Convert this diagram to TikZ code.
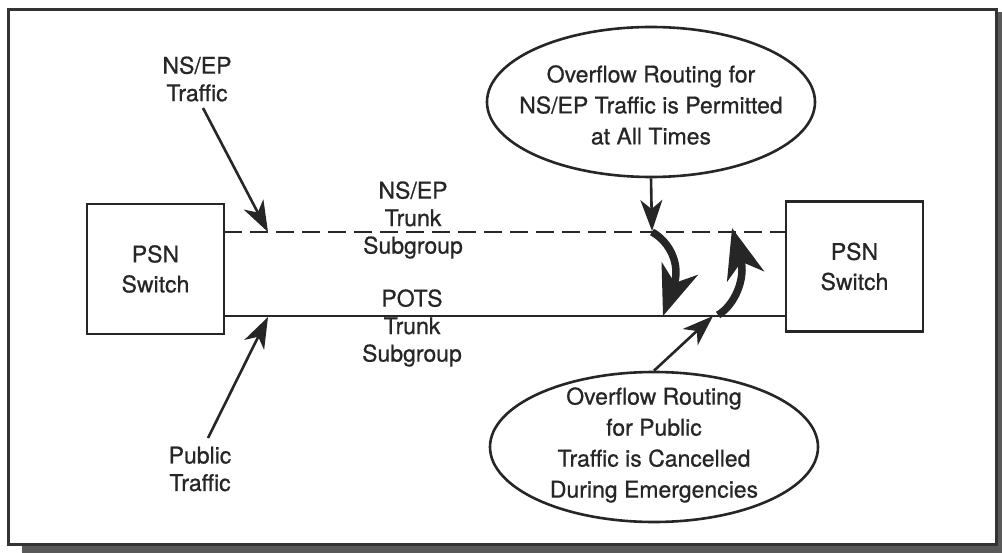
\documentclass[tikz,border=0pt]{standalone}
\usepackage{fontspec}
\setmainfont{TeX Gyre Heros}[FakeBold=0.7]
\usetikzlibrary{arrows.meta,shapes.geometric}
\begin{document}
\begin{tikzpicture}[x=1pt,y=-1pt,
  ink/.style={draw=black!85, line width=2.6pt},
  lbl/.style={text=black!85, align=center, font=\fontsize{23}{27.5}\selectfont, inner sep=0pt},
  ntext/.style={text=black!85, align=center, font=\fontsize{23}{31}\selectfont, inner sep=0pt},
  swbox/.style={ink, fill=white, minimum width=137pt, minimum height=130pt, inner sep=0pt, align=center, text=black!85, font=\fontsize{23}{30}\selectfont},
  note/.style={ink, ellipse, minimum width=328pt, minimum height=150pt, inner sep=0pt},
  thinarrow/.style={draw=black!85, line width=2.6pt, -{Stealth[length=31pt,width=22pt,inset=9pt]}},
  fatarrow/.style={draw=black!85, line width=7.5pt, -{Stealth[length=50pt,width=38pt,inset=15pt]}},
  trunk/.style={draw=black!85, line width=2.6pt},
]
\useasboundingbox (0,0) rectangle (1002,553);
% shadow and frame
\fill[black!65] (22,543) rectangle (1002,553);
\fill[black!65] (996,12) rectangle (1002,553);
\draw[draw=black!80, line width=3pt, fill=white] (8,10) rectangle (996,544);

% switches
\node[swbox] (L) at (155.5,269) {PSN\\Switch};
\node[swbox] (R) at (854.5,266.5) {PSN\\Switch};

% trunk lines
\coordinate (d1) at (224,232);
\coordinate (d2) at (786,232);
\coordinate (s1) at (224,316);
\coordinate (s2) at (786,316);
\draw[trunk, dash pattern=on 18pt off 8pt] (d1) -- (d2);
\draw[trunk] (s1) -- (s2);

% labels
\node[lbl] (nsep) at (197,79) {NS/EP\\Traffic};
\node[lbl] (nsept) at (413,220) {NS/EP\\Trunk\\Subgroup};
\node[lbl] (pots) at (412,328) {POTS\\Trunk\\Subgroup};
\node[lbl] (pub) at (200,469) {Public\\Traffic};

% ellipses
\node[note] (e1) at (651,102) {};
\node[ntext] (t1) at (651,105) {Overflow Routing for\\NS/EP Traffic is Permitted\\at All Times};
\node[note] (e2) at (654,447) {};
\node[ntext] (t2) at (654,445) {Overflow Routing\\for Public\\Traffic is Cancelled\\During Emergencies};

% arrow targets
\coordinate (a1s) at (203,108);
\coordinate (a1e) at (268,232);
\coordinate (a2s) at (208,438);
\coordinate (a2e) at (268,317);
\coordinate (a3e) at (652,231);
\coordinate (a4e) at (713,316);

\draw[thinarrow] (a1s) -- (a1e);
\draw[thinarrow] (a2s) -- (a2e);
\draw[thinarrow] (e1.south) -- (a3e);
\draw[thinarrow] (e2.north) -- (a4e);

% overflow arrows
\coordinate (f1s) at (652,232);
\coordinate (f1e) at (663,316);
\coordinate (f2s) at (718,315);
\coordinate (f2e) at (732,228);
\draw[fatarrow] (f1s) .. controls (670,242) and (681,265) .. (f1e);
\draw[fatarrow] (f2s) .. controls (735,305) and (746,278) .. (f2e);
\end{tikzpicture}
\end{document}
